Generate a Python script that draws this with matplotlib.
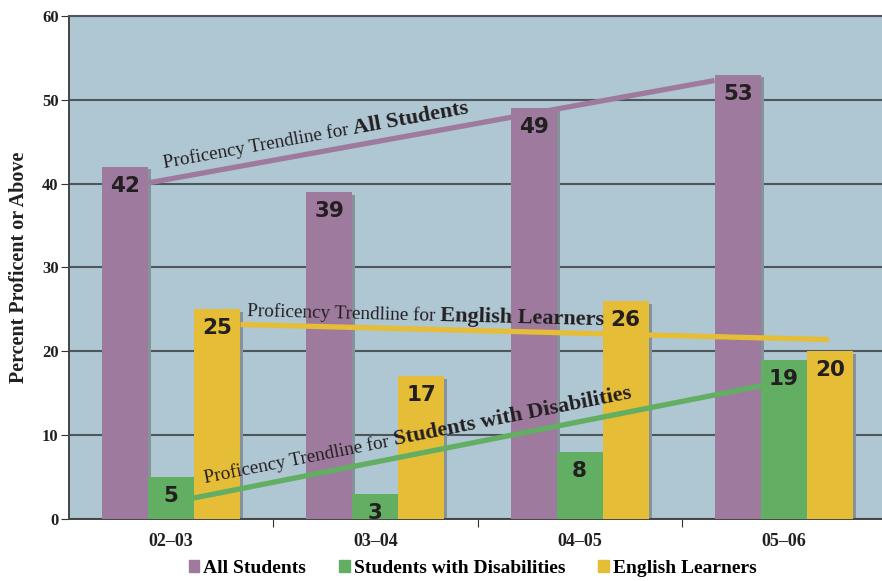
import numpy as np
import matplotlib.pyplot as plt
from matplotlib.patches import Patch

years = ['02–03', '03–04', '04–05', '05–06']
all_students = [42, 39, 49, 53]
disabilities = [5, 3, 8, 19]
english = [25, 17, 26, 20]

# trendline end points (x in category units, y in percent)
trend_all_x, trend_all_y = [-0.11, 2.66], [40.1, 52.3]
trend_swd_x, trend_swd_y = [0.11, 2.89], [2.5, 15.9]
trend_el_x, trend_el_y = [0.34, 3.22], [23.2, 21.4]

purple = '#9e7b9e'
green = '#62ae62'
yellow = '#e6bd36'
shadow = '#86929a'
bg = '#afc6d3'
ink = '#231f20'
serif = 'Liberation Serif'

fig = plt.figure(figsize=(8.82, 5.81), dpi=100)
ax = fig.add_axes([0.0782, 0.1067, 0.9218, 0.8658])
ax.set_facecolor(bg)
ax.set_xlim(-0.5, 3.48)
ax.set_ylim(0, 60)

x = np.arange(len(years))
w = 0.225
series = [(all_students, purple, -w), (disabilities, green, 0), (english, yellow, w)]

# drop shadows first, then the bars on top
dx, dy = 3 / 204.3, 2.5 * 60 / 503
for vals, col, off in series:
    ax.bar(x + off + dx, np.array(vals) - dy, w, color=shadow, zorder=2)
for vals, col, off in series:
    ax.bar(x + off, vals, w, color=col, zorder=3)
    for xi, v in zip(x + off, vals):
        ax.annotate(str(v), (xi, v), xytext=(0, -19), textcoords='offset pixels',
                    ha='center', va='center', fontsize=15.5, fontweight='bold',
                    color=ink, family='DejaVu Sans', zorder=6)

ax.set_yticks(range(0, 61, 10))
ax.yaxis.grid(True, color='#4f575d', lw=1.5, zorder=1)
ax.set_axisbelow(True)
ax.set_xticks([0.5, 1.5, 2.5], minor=False)
ax.set_xticklabels([])
ax.set_xticks(x, minor=True)
ax.set_xticklabels(years, minor=True)
ax.tick_params(axis='x', which='minor', length=0, pad=10)
ax.tick_params(axis='x', which='major', length=6, color='#333333')
ax.tick_params(axis='y', length=6, color='#333333', pad=1.5)
for lab in ax.get_yticklabels():
    lab.set_family(serif)
    lab.set_fontweight('bold')
    lab.set_fontsize(12)
    lab.set_color(ink)
for lab in ax.get_xticklabels(minor=True):
    lab.set_family(serif)
    lab.set_fontweight('bold')
    lab.set_fontsize(13)
    lab.set_color(ink)
ax.spines['right'].set_visible(False)
for s in ['left', 'bottom']:
    ax.spines[s].set_color('#444444')
    ax.spines[s].set_linewidth(1.4)
ax.spines['top'].set_color('#4f575d')
ax.spines['top'].set_linewidth(1.5)

ax.set_ylabel('Percent Proficent or Above', family=serif, fontweight='bold',
              fontsize=14.5, color=ink, labelpad=9)

renderer = fig.canvas.get_renderer()


def trendline(xs, ys, col, start_x, lift, bold, plain_size=13.8, bold_size=16):
    ax.plot(xs, ys, color=col, lw=3.8, solid_capstyle='butt', zorder=5)
    p0 = ax.transData.transform((xs[0], ys[0]))
    p1 = ax.transData.transform((xs[1], ys[1]))
    ang = np.degrees(np.arctan2(p1[1] - p0[1], p1[0] - p0[0]))
    y0 = np.interp(start_x, xs, ys)
    plain = 'Proficency Trendline for'
    ax.annotate(plain, (start_x, y0), xytext=(0, lift), textcoords='offset pixels',
                rotation=ang, rotation_mode='anchor', ha='left', va='baseline',
                family=serif, fontsize=plain_size, color=ink, zorder=7)
    tmp = ax.text(0, 0, plain, family=serif, fontsize=plain_size)
    width = tmp.get_window_extent(renderer=renderer).width + 0.27 * plain_size * 100 / 72
    tmp.remove()
    r = np.radians(ang)
    ax.annotate(bold, (start_x, y0),
                xytext=(width * np.cos(r), lift + width * np.sin(r)),
                textcoords='offset pixels', rotation=ang, rotation_mode='anchor',
                ha='left', va='baseline', family=serif, fontsize=bold_size,
                fontweight='bold', color=ink, zorder=7)


trendline(trend_all_x, trend_all_y, purple, -0.035, 12, 'All Students')
trendline(trend_el_x, trend_el_y, yellow, 0.371, 9, 'English Learners')
trendline(trend_swd_x, trend_swd_y, green, 0.166, 13, 'Students with Disabilities')

handles = [Patch(color=purple, label='All Students'),
           Patch(color=green, label='Students with Disabilities'),
           Patch(color=yellow, label='English Learners')]
fig.legend(handles=handles, loc='center', bbox_to_anchor=(0.536, 0.022), ncol=3,
           frameon=False, handlelength=0.55, handleheight=0.55, handletextpad=0.2,
           columnspacing=1.7, prop={'family': serif, 'weight': 'bold', 'size': 14})

fig.savefig('out.png', dpi=100, facecolor='white')
